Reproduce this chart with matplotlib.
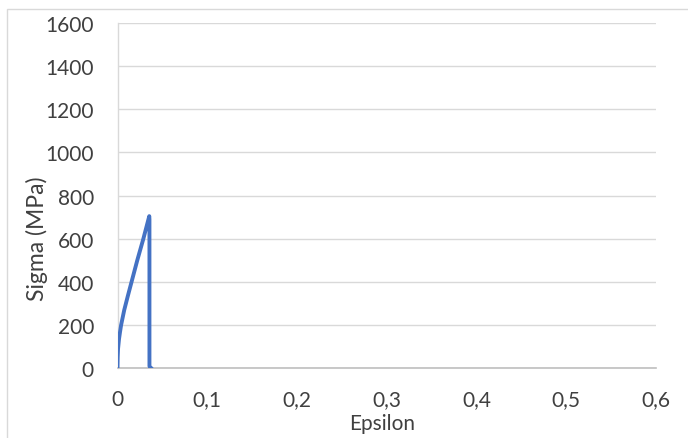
import matplotlib
matplotlib.use("Agg")
import matplotlib.pyplot as plt
from matplotlib.patches import Rectangle
from matplotlib.ticker import FuncFormatter

# stress-strain points
epsilon = [0, 0.0002, 0.0006, 0.0017, 0.0028, 0.004, 0.0075, 0.0115, 0.015,
           0.022, 0.0288, 0.0354, 0.0356, 0.0356, 0.0365, 0.038]
sigma = [0, 50, 90, 136, 168, 200, 270, 335, 390,
         500, 600, 705, 690, 10, 3, 0]

x_ticks = [0, 0.1, 0.2, 0.3, 0.4, 0.5, 0.6]
y_ticks = [0, 200, 400, 600, 800, 1000, 1200, 1400, 1600]

plt.rcParams['font.family'] = ['Lato', 'DejaVu Sans']

fig = plt.figure(figsize=(6.88, 4.39), dpi=100)
ax = fig.add_axes([117.5/688, 1-369.3/439, (656-117.5)/688, (369.3-24)/439])

ax.plot(epsilon, sigma, color="#4472C4", linewidth=2.8, solid_capstyle="round",
        solid_joinstyle="round", zorder=3)

ax.set_xlim(0, 0.6)
ax.set_ylim(0, 1600)
ax.set_xticks(x_ticks)
ax.set_yticks(y_ticks)
ax.xaxis.set_major_formatter(FuncFormatter(lambda v, p: ("%g" % v).replace(".", ",")))
ax.grid(axis="y", color="#D9D9D9", linewidth=1)
ax.set_axisbelow(True)
for s in ["top", "right"]:
    ax.spines[s].set_visible(False)
ax.spines["left"].set_color("#D9D9D9")
ax.spines["bottom"].set_color("#BFBFBF")
ax.spines["left"].set_linewidth(1)
ax.spines["bottom"].set_linewidth(1.2)
ax.tick_params(length=0, labelsize=15, labelcolor="#404040")
ax.tick_params(axis="y", pad=17)
ax.tick_params(axis="x", pad=15)

fig.text(382/688, 1-424/439, "Epsilon", ha="center", va="center", fontsize=15, color="#404040")
fig.text(36.7/688, 1-239/439, "Sigma (MPa)", ha="center", va="center", rotation=90,
         fontsize=16.5, color="#404040")

# chart border (right/bottom edges fall outside the image)
fig.patches.append(Rectangle((7/688, -0.1), 1.0, 1-9.5/439+0.1, transform=fig.transFigure,
                             fill=False, edgecolor="#D9D9D9", linewidth=1))

fig.savefig("out.png", dpi=100)
